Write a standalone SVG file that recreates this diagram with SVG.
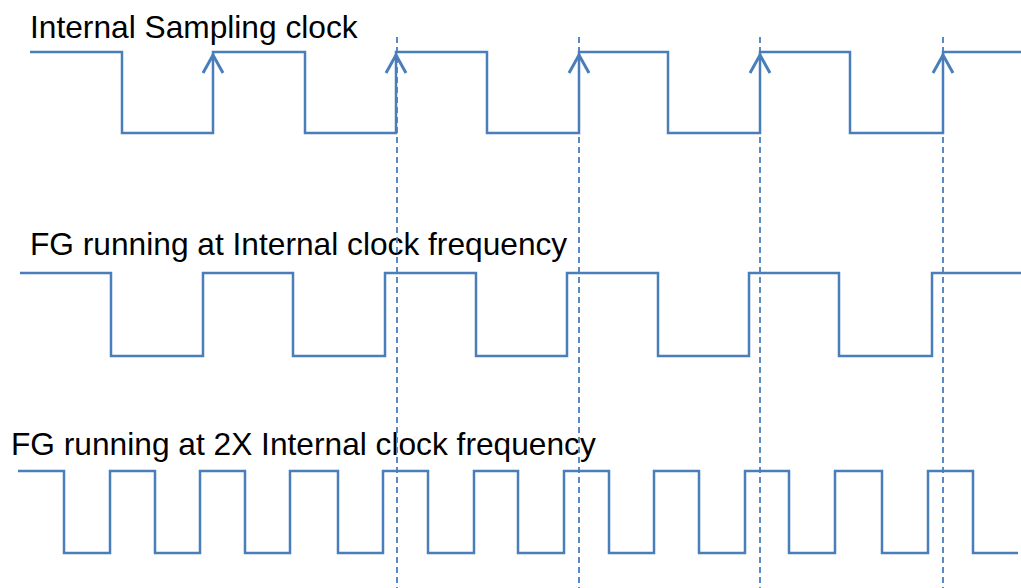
<svg xmlns="http://www.w3.org/2000/svg" xmlns:xlink="http://www.w3.org/1999/xlink" width="1021" height="588" viewBox="0 0 1021 588">
<style>
.wave{fill:none;stroke:#4a7ebb;stroke-width:2.5;stroke-linejoin:miter}
.arrow{fill:none;stroke:#4a7ebb;stroke-width:3}
.guide{fill:none;stroke:#4a7ebb;stroke-width:1.8;stroke-dasharray:6,4}
.label{font-family:"Liberation Sans",Arial,sans-serif;font-size:31.7px;fill:#000}
</style>
<defs>
<path id="arrowhead" class="arrow" d="M-10,73 L0,55 L10,73"/>
</defs>
<rect width="1021" height="588" fill="#fff"/>
<g id="internal-clock">
<text class="label" x="30" y="38">Internal Sampling clock</text>
<path class="wave" d="M30,52 H122 V133 H213 V52 H305 V133 H396 V52 H487 V133 H579 V52 H668 V133 H760 V52 H850 V133 H943 V52 H1021"/>
<use xlink:href="#arrowhead" x="213" y="0"/>
<use xlink:href="#arrowhead" x="396" y="0"/>
<use xlink:href="#arrowhead" x="579" y="0"/>
<use xlink:href="#arrowhead" x="760" y="0"/>
<use xlink:href="#arrowhead" x="943" y="0"/>
</g>
<g id="fg-1x">
<text class="label" x="30" y="255">FG running at Internal clock frequency</text>
<path class="wave" d="M20,273 H111 V356 H203 V273 H293 V356 H385 V273 H476 V356 H567 V273 H658 V356 H749 V273 H839 V356 H932 V273 H1021"/>
</g>
<g id="fg-2x">
<text class="label" x="11" y="455">FG running at 2X Internal clock frequency</text>
<path class="wave" d="M18,471 H64 V553 H110 V471 H155 V553 H200 V471 H245 V553 H290 V471 H338 V553 H383 V471 H428 V553 H474 V471 H518 V553 H564 V471 H609 V553 H654 V471 H699 V553 H745 V471 H789 V553 H835 V471 H882 V553 H928 V471 H973 V553 H1018"/>
</g>
<g id="connectors">
<line class="guide" x1="397" y1="37" x2="397" y2="588"/>
<line class="guide" x1="579" y1="37" x2="579" y2="588"/>
<line class="guide" x1="760" y1="37" x2="760" y2="588"/>
<line class="guide" x1="943" y1="37" x2="943" y2="588"/>
</g>
</svg>
